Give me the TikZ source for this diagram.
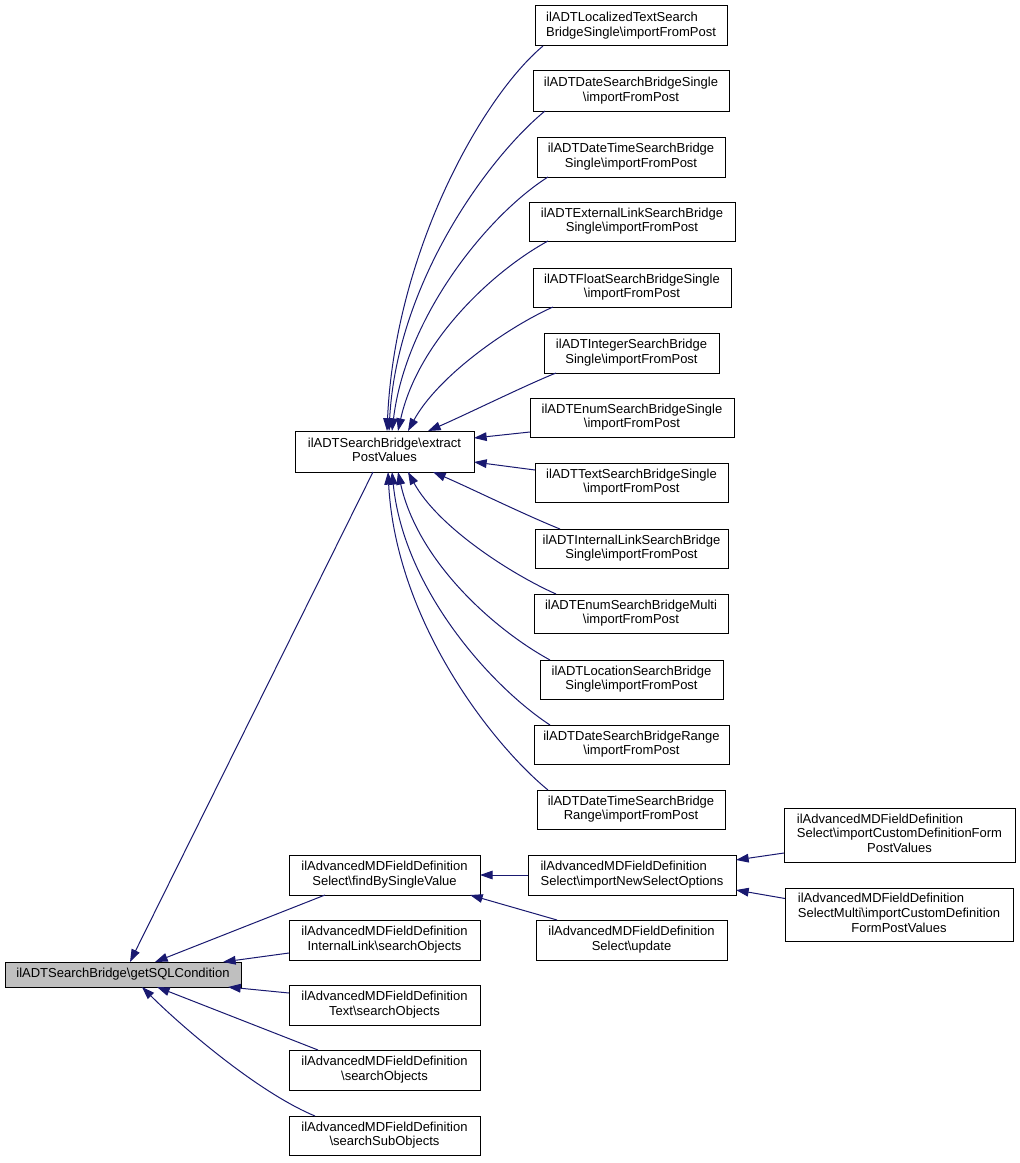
\documentclass[tikz,border=0pt]{standalone}
\usepackage{fontspec}
\setmainfont{Liberation Sans}
\usetikzlibrary{arrows.meta,calc}
\definecolor{edgeblue}{HTML}{191970}
\definecolor{hlgray}{HTML}{BFBFBF}
\newcommand\myBS{\textbackslash}
\newcommand\twol[2]{\begin{tabular}{@{}l@{}}#1\\\multicolumn{1}{@{}c@{}}{#2}\end{tabular}}
\newcommand\threel[3]{\begin{tabular}{@{}l@{}}#1\\#2\\\multicolumn{1}{@{}c@{}}{#3}\end{tabular}}
\newcommand\mybox[7][]{\node[nd,#1,minimum width={(#4-#2)*0.75pt},minimum height={(#5-#3)*0.75pt}] (#6) at ({(#2+#4)/2},{(#3+#5)/2}) {#7};}
\tikzset{
  nd/.style={draw=black,line width=0.75pt,fill=white,inner sep=0pt,outer sep=0pt,
    font=\fontsize{9.75pt}{11pt}\selectfont},
  edge/.style={draw=edgeblue,line width=0.75pt,-{Triangle[length=9.5pt,width=6.5pt]}}
}
\begin{document}
\begin{tikzpicture}[x=0.75pt,y=-0.75pt]
\useasboundingbox[fill=white] (0,0) rectangle (1020,1163);
% nodes: x1 y1 x2 y2 name text
\mybox{295}{431}{474}{472}{ex}{\twol{ilADTSearchBridge\myBS extract}{PostValues}}
\mybox[fill=hlgray]{5}{962}{241}{987}{gs}{ilADTSearchBridge\myBS getSQLCondition}
\mybox{535}{6}{727}{46}{r1}{\twol{ilADTLocalizedTextSearch}{BridgeSingle\myBS importFromPost}}
\mybox{533}{71}{729}{111}{r2}{\twol{ilADTDateSearchBridgeSingle}{\myBS importFromPost}}
\mybox{537}{137}{725}{177}{r3}{\twol{ilADTDateTimeSearchBridge}{Single\myBS importFromPost}}
\mybox{529}{202}{735}{241}{r4}{\twol{ilADTExternalLinkSearchBridge}{Single\myBS importFromPost}}
\mybox{533}{268}{731}{307}{r5}{\twol{ilADTFloatSearchBridgeSingle}{\myBS importFromPost}}
\mybox{544}{333}{719}{373}{r6}{\twol{ilADTIntegerSearchBridge}{Single\myBS importFromPost}}
\mybox{530}{398}{734}{437}{r7}{\twol{ilADTEnumSearchBridgeSingle}{\myBS importFromPost}}
\mybox{535}{463}{728}{502}{r8}{\twol{ilADTTextSearchBridgeSingle}{\myBS importFromPost}}
\mybox{535}{529}{728}{568}{r9}{\twol{ilADTInternalLinkSearchBridge}{Single\myBS importFromPost}}
\mybox{534}{594}{728}{633}{r10}{\twol{ilADTEnumSearchBridgeMulti}{\myBS importFromPost}}
\mybox{540}{660}{723}{699}{r11}{\twol{ilADTLocationSearchBridge}{Single\myBS importFromPost}}
\mybox{534}{725}{729}{764}{r12}{\twol{ilADTDateSearchBridgeRange}{\myBS importFromPost}}
\mybox{537}{790}{725}{829}{r13}{\twol{ilADTDateTimeSearchBridge}{Range\myBS importFromPost}}
\mybox{289}{855}{480}{895}{fd}{\twol{ilAdvancedMDFieldDefinition}{Select\myBS findBySingleValue}}
\mybox{289}{920}{480}{960}{ils}{\twol{ilAdvancedMDFieldDefinition}{InternalLink\myBS searchObjects}}
\mybox{289}{985}{480}{1025}{ts}{\twol{ilAdvancedMDFieldDefinition}{Text\myBS searchObjects}}
\mybox{289}{1050}{480}{1090}{so}{\twol{ilAdvancedMDFieldDefinition}{\myBS searchObjects}}
\mybox{289}{1116}{480}{1155}{sso}{\twol{ilAdvancedMDFieldDefinition}{\myBS searchSubObjects}}
\mybox{528}{855}{736}{895}{imp}{\twol{ilAdvancedMDFieldDefinition}{Select\myBS importNewSelectOptions}}
\mybox{536}{920}{727}{960}{up}{\twol{ilAdvancedMDFieldDefinition}{Select\myBS update}}
\mybox{784}{808}{1015}{862}{ic}{\threel{ilAdvancedMDFieldDefinition}{Select\myBS importCustomDefinitionForm}{PostValues}}
\mybox{785}{888}{1013}{941}{sm}{\threel{ilAdvancedMDFieldDefinition}{SelectMulti\myBS importCustomDefinition}{FormPostValues}}
% edges into extractPostValues (top)
\draw[edge] ($(r1.south west)+(8,0)$) .. controls +(-60,50) and +(8,-180) .. ($(ex.north west)+(92,0)$);
\draw[edge] ($(r2.south west)+(12,0)$) .. controls +(-55,45) and +(8,-150) .. ($(ex.north west)+(94,0)$);
\draw[edge] ($(r3.south west)+(11,0)$) .. controls +(-60,38) and +(14,-115) .. ($(ex.north west)+(97,0)$);
\draw[edge] ($(r4.south west)+(19,0)$) .. controls +(-55,30) and +(20,-90) .. ($(ex.north west)+(103,0)$);
\draw[edge] ($(r5.south west)+(20,0)$) .. controls +(-45,20) and +(30,-55) .. ($(ex.north west)+(113,0)$);
\draw[edge] ($(r6.south west)+(12,0)$) .. controls +(-30,12) and +(35,-15) .. ($(ex.north west)+(133,0)$);
\draw[edge] ($(r7.south west)+(0,-5)$) -- ($(ex.east)+(0,-13.5)$);
\draw[edge] ($(r8.north west)+(0,7)$) -- ($(ex.east)+(0,10.5)$);
% edges into extractPostValues (bottom)
\draw[edge] ($(r9.north west)+(25,0)$) .. controls +(-35,-14) and +(35,15) .. ($(ex.south west)+(138,0)$);
\draw[edge] ($(r10.north west)+(22,0)$) .. controls +(-45,-20) and +(30,55) .. ($(ex.south west)+(113,0)$);
\draw[edge] ($(r11.north west)+(10,0)$) .. controls +(-55,-30) and +(20,90) .. ($(ex.south west)+(103,0)$);
\draw[edge] ($(r12.north west)+(16,0)$) .. controls +(-58,-38) and +(12,118) .. ($(ex.south west)+(97,0)$);
\draw[edge] ($(r13.north west)+(11,0)$) .. controls +(-55,-45) and +(8,150) .. ($(ex.south west)+(93,0)$);
% edges into getSQLCondition
\draw[edge] ($(ex.south west)+(78,0)$) -- ($(gs.north west)+(125,0)$);
\draw[edge] ($(fd.south west)+(36,0)$) -- ($(gs.north west)+(150,0)$);
\draw[edge] ($(ils.west)+(0,13)$) -- ($(gs.north west)+(218,0)$);
\draw[edge] ($(ts.west)+(0,-12)$) -- ($(gs.south west)+(223,0)$);
\draw[edge] ($(so.north west)+(29,0)$) -- ($(gs.south west)+(152,0)$);
\draw[edge] ($(sso.north west)+(26,0)$) .. controls +(-60,-25) and +(35,35) .. ($(gs.south west)+(137,0)$);
% other edges
\draw[edge] (imp.west) -- (fd.east);
\draw[edge] ($(up.north west)+(21,0)$) -- ($(fd.south west)+(181,0)$);
\draw[edge] ($(ic.west)+(0,18)$) -- ($(imp.east)+(0,-15)$);
\draw[edge] ($(sm.west)+(0,-16)$) -- ($(imp.east)+(0,15)$);
\end{tikzpicture}
\end{document}
